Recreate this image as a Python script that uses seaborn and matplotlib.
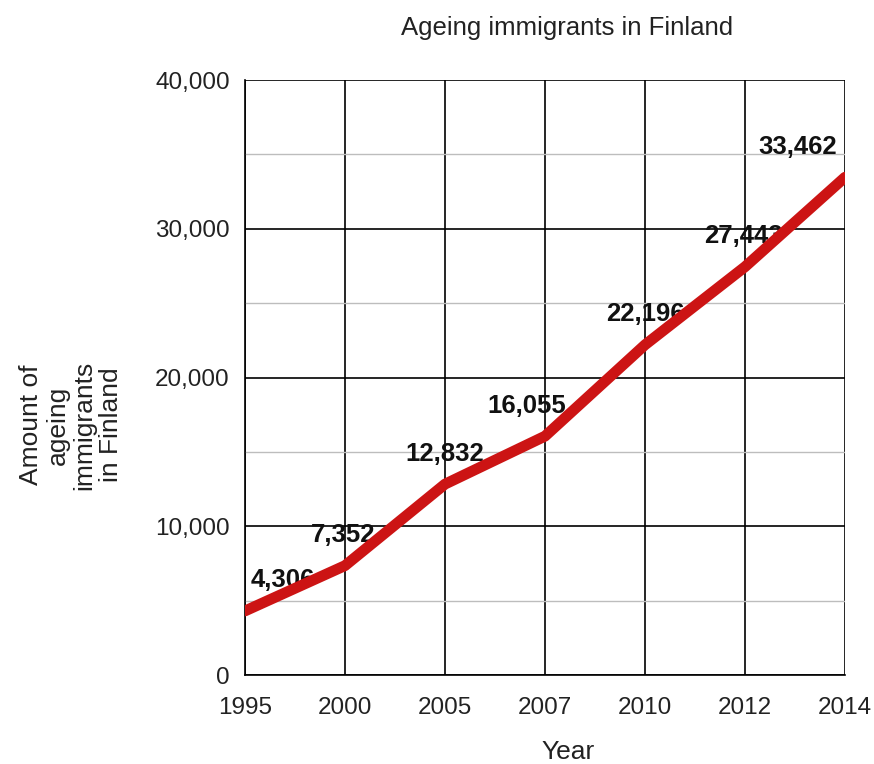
import pandas as pd
import matplotlib.pyplot as plt
import seaborn as sns
from matplotlib.ticker import MultipleLocator, FuncFormatter

years = ["1995", "2000", "2005", "2007", "2010", "2012", "2014"]
immigrants = [4306, 7352, 12832, 16055, 22196, 27443, 33462]
labels = ["4,306", "7,352", "12,832", "16,055", "22,196", "27,443", "33,462"]

# horizontal nudge of each value label (points)
label_dx = [27, -1, 0, -13, 0, -1, -34]

df = pd.DataFrame({"Year": years, "Amount": immigrants})

sns.set_style("white")
plt.rcParams["font.family"] = ["Liberation Sans", "DejaVu Sans"]

fig = plt.figure(figsize=(8.74, 7.64), dpi=100)
ax = fig.add_axes([245 / 874, 1 - 675 / 764, 600 / 874, 595 / 764])

sns.lineplot(data=df, x="Year", y="Amount", ax=ax, color="#cc1414",
             linewidth=7.8, solid_capstyle="round", zorder=5, sort=False)

ax.set_xlim(0, len(years) - 1)
ax.set_ylim(0, 40000)
ax.yaxis.set_major_locator(MultipleLocator(10000))
ax.yaxis.set_minor_locator(MultipleLocator(5000))
ax.yaxis.set_major_formatter(FuncFormatter(lambda v, p: f"{int(v):,}"))

ax.grid(True, which="major", axis="both", color="black", linewidth=1.2)
ax.grid(True, which="minor", axis="y", color="#bdbdbd", linewidth=1.0)
ax.set_axisbelow(True)

for s in ["top", "right"]:
    ax.spines[s].set_visible(False)
for s in ["left", "bottom"]:
    ax.spines[s].set_color("black")
    ax.spines[s].set_linewidth(1.2)

ax.tick_params(axis="both", which="major", direction="out", length=7, width=1.2,
               color="black", labelsize=17.5, labelcolor="#222222")
ax.tick_params(axis="y", which="minor", length=5, width=1, color="#d8d8d8")
ax.tick_params(axis="x", pad=9)
ax.tick_params(axis="y", pad=4)

for i, (v, t) in enumerate(zip(immigrants, labels)):
    ax.annotate(t, (i, v), xytext=(label_dx[i], 22), textcoords="offset points",
                ha="center", va="center", fontsize=18.5, fontweight="bold",
                color="#111111", zorder=3)

ax.set_xlabel("")
ax.set_ylabel("")
fig.text(567 / 874, 1 - 28 / 764, "Ageing immigrants in Finland", ha="center",
         va="center", fontsize=18.5, color="#222222")
fig.text(568 / 874, 1 - 752 / 764, "Year", ha="center", va="center",
         fontsize=19, color="#222222")
fig.text(71 / 874, 1 - 425 / 764, "Amount of\nageing\nimmigrants\nin Finland",
         ha="center", va="center", rotation=90, fontsize=19, color="#222222",
         linespacing=1.15)

fig.savefig("out.png", dpi=100)
